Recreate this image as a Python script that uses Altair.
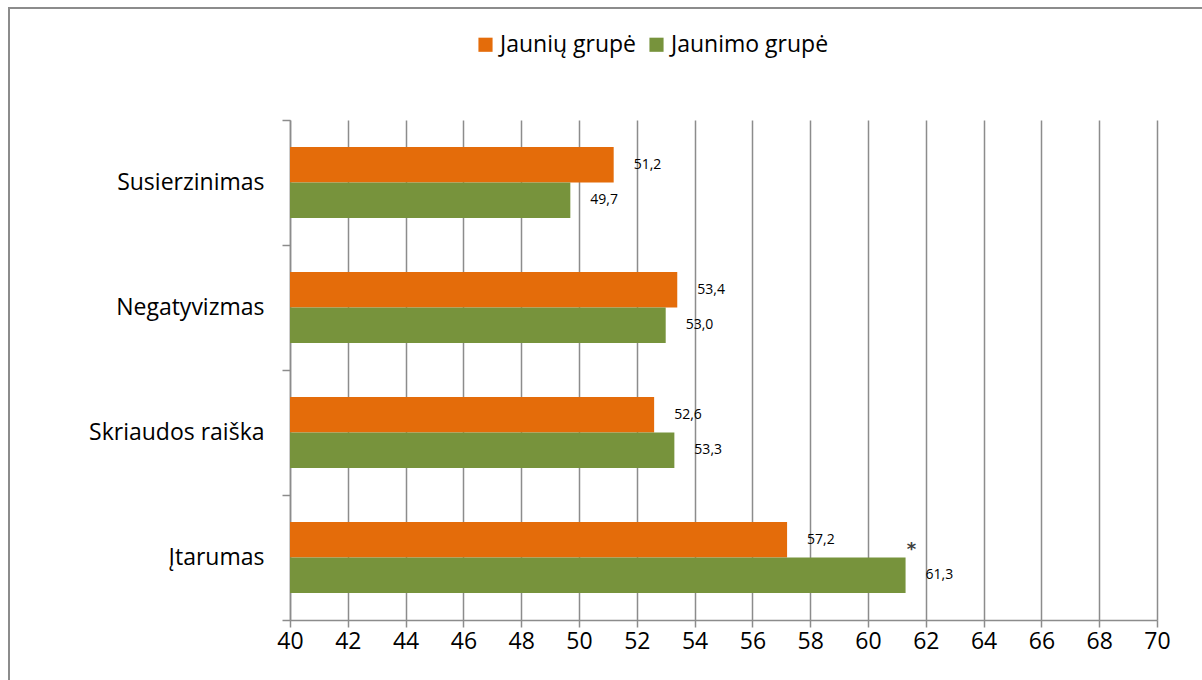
import altair as alt
import pandas as pd

categories = ["Susierzinimas", "Negatyvizmas", "Skriaudos raiška", "Įtarumas"]
series = ["Jaunių grupė", "Jaunimo grupė"]
jauniu = [51.2, 53.4, 52.6, 57.2]
jaunimo = [49.7, 53.0, 53.3, 61.3]
x_ticks = list(range(40, 71, 2))
star_category = "Įtarumas"
star_value = 61.5

rows = []
for c, a, b in zip(categories, jauniu, jaunimo):
    rows.append({"cat": c, "series": series[0], "value": a, "label": f"{a:.1f}".replace(".", ",")})
    rows.append({"cat": c, "series": series[1], "value": b, "label": f"{b:.1f}".replace(".", ",")})
df = pd.DataFrame(rows)

FONT = "Open Sans"
GRID = "#8c8c8c"

y_enc = alt.Y("cat:N", sort=categories, title=None,
              scale=alt.Scale(domain=categories, paddingInner=0, paddingOuter=0),
              axis=alt.Axis(tickBand="extent", grid=False, domainColor=GRID, domainWidth=1.5,
                            tickColor=GRID, tickWidth=1.5, tickSize=8, labelPadding=18,
                            labelFont=FONT, labelFontSize=23, labelColor="#000000"))
yoff = alt.YOffset("series:N", sort=series,
                   scale=alt.Scale(domain=series, paddingInner=0, paddingOuter=0.76))

base = alt.Chart(df)

bars = base.mark_bar(clip=True).encode(
    x=alt.X("value:Q", title=None,
            scale=alt.Scale(domain=[40, 70], nice=False, zero=False),
            axis=alt.Axis(values=x_ticks, grid=True, gridColor=GRID, gridWidth=1.5,
                          domainColor=GRID, domainWidth=1.5, tickColor=GRID, tickWidth=1.5,
                          tickSize=7, labelPadding=3, labelFont=FONT, labelFontSize=23,
                          labelColor="#000000", labelFlush=False)),
    x2=alt.datum(40),
    y=y_enc,
    yOffset=yoff,
    color=alt.Color("series:N", sort=series,
                    scale=alt.Scale(domain=series, range=["#E46C0A", "#77933C"]),
                    legend=alt.Legend(title=None, orient="none", direction="horizontal",
                                      legendX=184, legendY=-87, symbolType="square",
                                      symbolSize=200, symbolStrokeWidth=0, labelFont=FONT,
                                      labelFontSize=23, labelColor="#000000", columnPadding=8,
                                      symbolOffset=0, labelOffset=3)),
)

labels = base.mark_text(align="left", baseline="middle", dx=20, font=FONT, fontSize=14,
                        color="#000000").encode(
    x="value:Q", y=alt.Y("cat:N", sort=categories), yOffset=yoff, text="label:N")

star_df = pd.DataFrame({"cat": [star_category], "series": [series[0]], "value": [star_value], "t": ["*"]})
star = alt.Chart(star_df).mark_text(align="center", baseline="middle", dy=10, font="DejaVu Sans",
                                    fontSize=18, fontWeight="bold", color="#404040").encode(
    x="value:Q", y=alt.Y("cat:N", sort=categories), yOffset=yoff, text="t:N")

one = pd.DataFrame({"a": [0]})
frame_top = alt.Chart(one).mark_rule(stroke="#8c8c8c", strokeWidth=2).encode(
    x=alt.value(-281), x2=alt.value(930), y=alt.value(-112))
frame_left = alt.Chart(one).mark_rule(stroke="#8c8c8c", strokeWidth=2).encode(
    x=alt.value(-281), y=alt.value(-113), y2=alt.value(580))

chart = alt.layer(bars, labels, star, frame_top, frame_left).properties(
    width=867, height=500,
    autosize=alt.AutoSizeParams(type="none"),
    padding={"left": 290, "top": 120, "right": 45, "bottom": 60},
    background="#ffffff",
).configure_view(stroke=None).resolve_scale(y="shared")

chart.save("out.html", embed_options={"renderer": "svg", "actions": False})
